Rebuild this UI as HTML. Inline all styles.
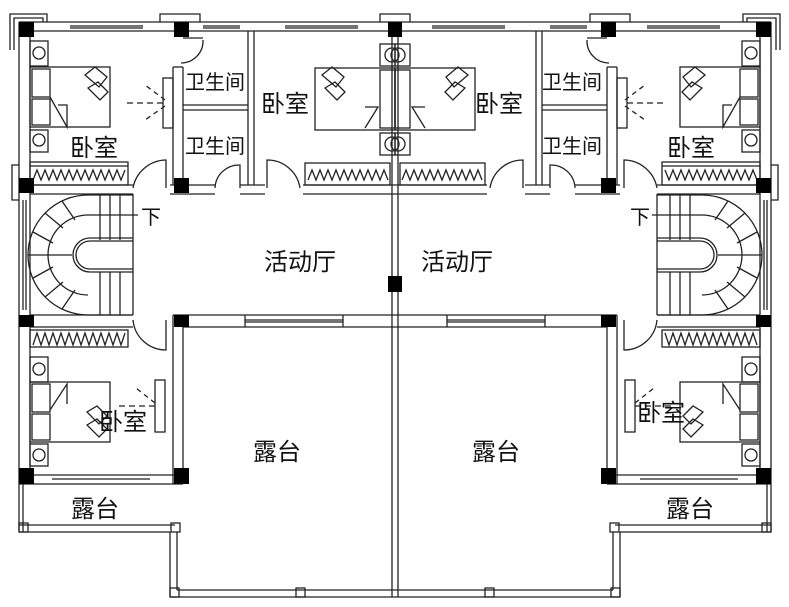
<!DOCTYPE html>
<html><head><meta charset="utf-8"><style>
body{margin:0;background:#fff;width:789px;height:607px;overflow:hidden}
svg{display:block}
text{font-family:"Liberation Sans","Noto Sans CJK SC",sans-serif;fill:#111}
</style></head><body>
<svg width="789" height="607" viewBox="0 0 789 607" xmlns="http://www.w3.org/2000/svg">
<defs>
<g id="half" fill="none" stroke="#222" stroke-width="1.3">
  <polyline points="10,50 10,14 47,14 47,22"/><polyline points="14,50 14,18 43,18 43,22"/>
  <polyline points="160,22 160,14 200,14 200,22"/>
  <polyline points="380,22 380,14 395,14"/>
  <polyline points="19,165 12,165 12,200 19,200"/>
  <line x1="19" y1="22" x2="395" y2="22"/><line x1="30" y1="31" x2="395" y2="31"/>
  <line x1="70" y1="26" x2="143" y2="26"/><line x1="70" y1="28" x2="143" y2="28"/>
  <line x1="203" y1="26" x2="240" y2="26"/><line x1="203" y1="28" x2="240" y2="28"/>
  <line x1="285" y1="26" x2="358" y2="26"/><line x1="285" y1="28" x2="358" y2="28"/>
  <line x1="19" y1="22" x2="19" y2="484"/><line x1="30" y1="31" x2="30" y2="475"/>
  <line x1="23" y1="200" x2="23" y2="310"/><line x1="26" y1="200" x2="26" y2="310"/>
  <line x1="173" y1="67" x2="173" y2="185"/><line x1="183" y1="67" x2="183" y2="185"/><line x1="173" y1="67" x2="183" y2="67"/>
  <line x1="248" y1="31" x2="248" y2="185"/><line x1="254" y1="31" x2="254" y2="185"/>
  <line x1="183" y1="105" x2="248" y2="105"/><line x1="183" y1="110" x2="248" y2="110"/>
  <rect x="163" y="78" width="10" height="50"/>
  <line x1="163" y1="103" x2="127" y2="103" stroke-dasharray="6,4"/>
  <line x1="165" y1="100" x2="145" y2="85" stroke-dasharray="5,4"/><line x1="165" y1="106" x2="145" y2="120" stroke-dasharray="5,4"/>
  <path d="M183,38 L203,38 M203,40 A22,22 0 0 1 181,63"/>
  <line x1="30" y1="185" x2="133" y2="185"/><line x1="30" y1="194" x2="133" y2="194"/>
  <line x1="170" y1="185" x2="215" y2="185"/><line x1="170" y1="194" x2="215" y2="194"/>
  <line x1="240" y1="185" x2="265" y2="185"/><line x1="240" y1="194" x2="265" y2="194"/>
  <line x1="303" y1="185" x2="395" y2="185"/><line x1="303" y1="194" x2="395" y2="194"/>
  <path d="M133,188 A34,34 0 0 1 166,160 L166,188"/>
  <path d="M215,188 A24,24 0 0 1 240,165 L240,188"/>
  <path d="M300,188 A33,33 0 0 0 267,160 L267,188"/>
  <rect x="30" y="162" width="98" height="23"/><line x1="30" y1="166" x2="128" y2="166"/>
  <polyline points="33,180 37,170 41,180 45,170 49,180 53,170 57,180 61,170 65,180 69,170 73,180 77,170 81,180 85,170 89,180 93,170 97,180 101,170 105,180 109,170 113,180 117,170 121,180 125,170"/>
  <rect x="305" y="163" width="85" height="22"/>
  <polyline points="308,180 312,170 316,180 320,170 324,180 328,170 332,180 336,170 340,180 344,170 348,180 352,170 356,180 360,170 364,180 368,170 372,180 376,170 380,180 384,170 388,180"/>
  <rect x="30" y="67" width="80" height="60"/><rect x="32" y="69" width="18" height="28"/><rect x="32" y="99" width="18" height="26"/>
  <polyline points="50,97 67,127 67,105 58,105"/>
  <path d="M85,75 l10,-8 l12,10 l-8,10 z M88,88 l10,-6 l10,10 l-8,8 z"/>
  <rect x="30" y="41" width="18" height="25"/><circle cx="39" cy="53" r="6"/>
  <rect x="30" y="130" width="18" height="22"/><circle cx="39" cy="140" r="6"/>
  <rect x="315" y="68" width="80" height="62"/><rect x="380" y="70" width="15" height="58"/>
  <polyline points="365,128 378,107 365,107"/>
  <path d="M322,75 l10,-8 l12,10 l-8,10 z M325,88 l10,-6 l10,10 l-8,8 z"/>
  <rect x="380" y="44" width="15" height="22"/><circle cx="392" cy="55" r="7"/>
  <rect x="380" y="133" width="15" height="22"/><circle cx="392" cy="144" r="7"/>
  <line x1="88" y1="195" x2="133" y2="195"/><line x1="88" y1="315" x2="133" y2="315"/>
  <line x1="133" y1="194" x2="133" y2="315"/>
  <line x1="100" y1="195" x2="100" y2="240"/><line x1="110" y1="195" x2="110" y2="240"/><line x1="120" y1="195" x2="120" y2="240"/>
  <line x1="100" y1="272" x2="100" y2="315"/><line x1="110" y1="272" x2="110" y2="315"/><line x1="120" y1="272" x2="120" y2="315"/>
  <line x1="88" y1="215" x2="138" y2="215"/>
  <path d="M88,195 A60,60 0 0 0 88,315"/>
  <path d="M88,215 A40,40 0 0 0 88,295"/>
  <path d="M133,238 L90,238 A17,17 0 0 0 90,272 L133,272"/>
  <path d="M133,241 L90,241 A14,14 0 0 0 90,269 L133,269"/>
  <line x1="62" y1="201" x2="75" y2="220"/><line x1="45" y1="213" x2="63" y2="228"/><line x1="33" y1="232" x2="53" y2="243"/><line x1="28" y1="255" x2="72" y2="255"/>
  <line x1="33" y1="278" x2="53" y2="267"/><line x1="45" y1="297" x2="63" y2="282"/><line x1="62" y1="309" x2="75" y2="290"/>
  <line x1="30" y1="315" x2="133" y2="315"/><line x1="30" y1="327" x2="133" y2="327"/>
  <line x1="173" y1="315" x2="395" y2="315"/><line x1="183" y1="327" x2="395" y2="327"/>
  <line x1="245" y1="320" x2="343" y2="320"/><line x1="245" y1="322" x2="343" y2="322"/>
  <line x1="245" y1="315" x2="245" y2="327"/><line x1="343" y1="315" x2="343" y2="327"/>
  <path d="M133,320 A33,33 0 0 0 166,350 L166,320"/>
  <rect x="30" y="330" width="98" height="17"/>
  <polyline points="33,345 37,333 41,345 45,333 49,345 53,333 57,345 61,333 65,345 69,333 73,345 77,333 81,345 85,333 89,345 93,333 97,345 101,333 105,345 109,333 113,345 117,333 121,345 125,333"/>
  <rect x="30" y="382" width="80" height="60"/><rect x="32" y="384" width="18" height="28"/><rect x="32" y="414" width="18" height="26"/>
  <polyline points="50,410 67,384 67,404"/>
  <path d="M87,412 l10,-6 l10,10 l-8,8 z M87,425 l10,-6 l10,10 l-8,8 z"/>
  <rect x="30" y="357" width="18" height="25"/><circle cx="39" cy="369" r="6"/>
  <rect x="30" y="444" width="18" height="22"/><circle cx="39" cy="455" r="6"/>
  <rect x="155" y="380" width="10" height="52"/>
  <line x1="155" y1="406" x2="118" y2="406" stroke-dasharray="6,4"/><line x1="155" y1="403" x2="136" y2="388" stroke-dasharray="5,4"/>
  <line x1="173" y1="315" x2="173" y2="484"/><line x1="183" y1="327" x2="183" y2="484"/>
  <line x1="19" y1="475" x2="183" y2="475"/><line x1="19" y1="484" x2="183" y2="484"/>
  <line x1="52" y1="479" x2="150" y2="479"/>
  <line x1="23" y1="484" x2="23" y2="532"/><line x1="19" y1="484" x2="19" y2="532"/>
  <line x1="19" y1="525" x2="175" y2="525"/><line x1="19" y1="532" x2="170" y2="532"/>
  <rect x="19" y="523" width="9" height="9"/><rect x="171" y="523" width="9" height="9"/>
  <line x1="170" y1="532" x2="170" y2="597"/><line x1="177" y1="532" x2="177" y2="590"/>
  <line x1="177" y1="590" x2="395" y2="590"/><line x1="170" y1="597" x2="395" y2="597"/>
  <rect x="170" y="588" width="9" height="9"/><rect x="296" y="588" width="9" height="9"/>
  <line x1="392" y1="31" x2="392" y2="597"/>
  <g fill="#000" stroke="none">
    <rect x="19" y="22" width="15" height="15"/><rect x="174" y="22" width="15" height="15"/>
    <rect x="19" y="178" width="15" height="15"/><rect x="174" y="178" width="15" height="15"/>
    <rect x="19" y="315" width="15" height="12"/><rect x="174" y="315" width="15" height="12"/>
    <rect x="19" y="468" width="15" height="16"/><rect x="174" y="468" width="15" height="16"/>
    <rect x="388" y="22" width="7" height="15"/><rect x="388" y="276" width="7" height="16"/>
  </g>
</g>
</defs>
<use href="#half"/>
<use href="#half" transform="translate(790,0) scale(-1,1)"/>
<g font-size="24">
<text x="70" y="156">卧室</text><text x="261" y="112">卧室</text>
<text x="475" y="112">卧室</text><text x="667" y="156">卧室</text>
<text x="264" y="270">活动厅</text><text x="421" y="270">活动厅</text>
<text x="99" y="430">卧室</text><text x="637" y="421">卧室</text>
<text x="253" y="460">露台</text><text x="472" y="460">露台</text>
<text x="71" y="517">露台</text><text x="666" y="517">露台</text>
</g>
<g font-size="20">
<text x="185" y="89">卫生间</text><text x="185" y="153">卫生间</text>
<text x="542" y="89">卫生间</text><text x="542" y="153">卫生间</text>
<text x="141" y="224">下</text><text x="630" y="224">下</text>
</g>
</svg>
</body></html>
